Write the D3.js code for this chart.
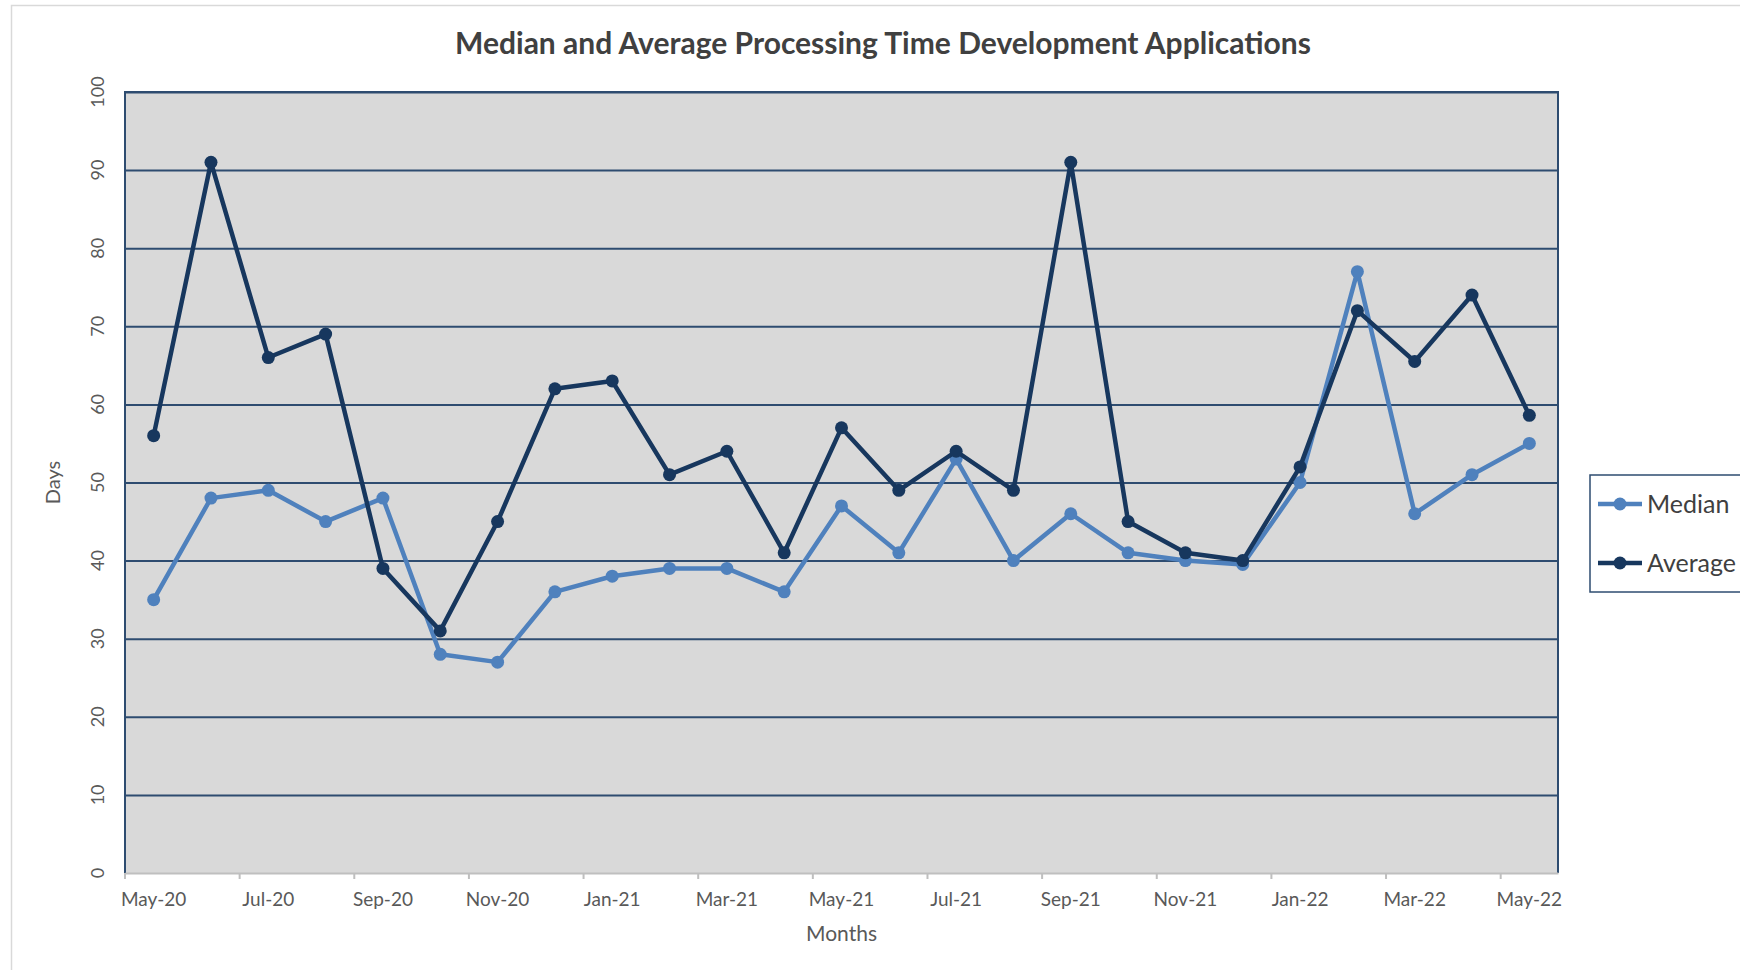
<!DOCTYPE html>
<html>
<head>
<meta charset="utf-8">
<script src="https://cdn.jsdelivr.net/npm/d3@7"></script>
<style>
  body { margin: 0; background: #fff; }
  text { font-family: Lato, "Open Sans", sans-serif; }
</style>
</head>
<body>
<div id="plot"></div>
<script>
// chart data
var months = ["May-20", "Jun-20", "Jul-20", "Aug-20", "Sep-20", "Oct-20", "Nov-20", "Dec-20",
  "Jan-21", "Feb-21", "Mar-21", "Apr-21", "May-21", "Jun-21", "Jul-21", "Aug-21", "Sep-21",
  "Oct-21", "Nov-21", "Dec-21", "Jan-22", "Feb-22", "Mar-22", "Apr-22", "May-22"];
var labelMonths = ["May-20", "Jul-20", "Sep-20", "Nov-20", "Jan-21", "Mar-21", "May-21",
  "Jul-21", "Sep-21", "Nov-21", "Jan-22", "Mar-22", "May-22"];
var median = [35, 48, 49, 45, 48, 28, 27, 36, 38, 39, 39, 36, 47, 41, 53, 40, 46, 41, 40, 39.5, 50, 77, 46, 51, 55];
var average = [56, 91, 66, 69, 39, 31, 45, 62, 63, 51, 54, 41, 57, 49, 54, 49, 91, 45, 41, 40, 52, 72, 65.5, 74, 58.6];
var yTicks = [0, 10, 20, 30, 40, 50, 60, 70, 80, 90, 100];

var svgWidth = 1740;
var svgHeight = 970;
var margin = { top: 92, right: 182, bottom: 97, left: 125 };
var width = svgWidth - margin.left - margin.right;
var height = svgHeight - margin.top - margin.bottom;

var series = [
  { name: "Median", values: median, color: "#4f81bd" },
  { name: "Average", values: average, color: "#17375e" }
];

var svg = d3.select("#plot")
  .append("svg")
  .attr("width", svgWidth)
  .attr("height", svgHeight);

// outer chart frame
svg.append("rect")
  .attr("x", 11.5).attr("y", 5.5)
  .attr("width", 1800).attr("height", 1000)
  .attr("fill", "#fff")
  .attr("stroke", "#d9d9d9")
  .attr("stroke-width", 1.5);

var chartGroup = svg.append("g")
  .attr("transform", `translate(${margin.left}, ${margin.top})`);

var xScale = d3.scaleBand()
  .domain(months)
  .range([0, width])
  .padding(0);
var xMid = d => xScale(d) + xScale.bandwidth() / 2;

var yScale = d3.scaleLinear()
  .domain([0, 100])
  .range([height, 0]);

// plot background
chartGroup.append("rect")
  .attr("width", width)
  .attr("height", height)
  .attr("fill", "#d9d9d9");

// gridlines
chartGroup.append("g")
  .attr("class", "grid")
  .call(d3.axisLeft(yScale).tickValues(yTicks.slice(1)).tickSize(-width).tickFormat(""))
  .call(g => g.select(".domain").remove())
  .call(g => g.selectAll("line").attr("stroke", "#2e4c70").attr("stroke-width", 2));

// plot border: top, left, right
chartGroup.append("path")
  .attr("d", `M0,${height}V0H${width}V${height}`)
  .attr("fill", "none")
  .attr("stroke", "#2e4c70")
  .attr("stroke-width", 2);

// y axis labels (rotated)
chartGroup.append("g")
  .selectAll("text")
  .data(yTicks)
  .enter()
  .append("text")
  .attr("transform", d => `translate(-27, ${yScale(d)}) rotate(-90)`)
  .attr("text-anchor", "middle")
  .attr("dy", "0.35em")
  .attr("font-size", "18px")
  .attr("fill", "#595959")
  .text(d => d);

// x axis
var xAxis = chartGroup.append("g")
  .attr("transform", `translate(0, ${height})`)
  .call(d3.axisBottom(xScale).tickValues(labelMonths).tickSize(0).tickPadding(20));
xAxis.select(".domain").attr("stroke", "#bfbfbf").attr("stroke-width", 2);
xAxis.selectAll("text")
  .attr("font-size", "19px")
  .attr("fill", "#595959")
  .style("font-family", "Lato, 'Open Sans', sans-serif");

xAxis.selectAll(".mark")
  .data(labelMonths)
  .enter()
  .append("line")
  .attr("class", "mark")
  .attr("x1", d => xScale(d)).attr("x2", d => xScale(d))
  .attr("y1", 0).attr("y2", 6)
  .attr("stroke", "#bfbfbf")
  .attr("stroke-width", 2);

// lines and markers
var line = d3.line()
  .x((d, i) => xMid(months[i]))
  .y(d => yScale(d));

series.forEach(function(s) {
  chartGroup.append("path")
    .datum(s.values)
    .attr("d", line)
    .attr("fill", "none")
    .attr("stroke", s.color)
    .attr("stroke-width", 4.5)
    .attr("stroke-linejoin", "round");

  chartGroup.append("g")
    .selectAll("circle")
    .data(s.values)
    .enter()
    .append("circle")
    .attr("cx", (d, i) => xMid(months[i]))
    .attr("cy", d => yScale(d))
    .attr("r", 6.5)
    .attr("fill", s.color);
});

// title
svg.append("text")
  .attr("x", 883)
  .attr("y", 54)
  .attr("text-anchor", "middle")
  .attr("font-size", "30px")
  .attr("font-weight", "bold")
  .attr("fill", "#404040")
  .text("Median and Average Processing Time Development Applications");

// axis titles
svg.append("text")
  .attr("transform", `translate(60, ${margin.top + height / 2}) rotate(-90)`)
  .attr("text-anchor", "middle")
  .attr("font-size", "20px")
  .attr("fill", "#595959")
  .text("Days");

svg.append("text")
  .attr("x", margin.left + width / 2)
  .attr("y", 941)
  .attr("text-anchor", "middle")
  .attr("font-size", "21px")
  .attr("fill", "#595959")
  .text("Months");

// legend
var legend = svg.append("g").attr("transform", "translate(1590, 475)");
legend.append("rect")
  .attr("width", 200)
  .attr("height", 117)
  .attr("fill", "#fff")
  .attr("stroke", "#2e4c70")
  .attr("stroke-width", 1.5);

series.forEach(function(s, i) {
  var row = legend.append("g").attr("transform", `translate(8, ${29 + i * 59})`);
  row.append("line")
    .attr("x1", 0).attr("x2", 44)
    .attr("stroke", s.color)
    .attr("stroke-width", 4.5);
  row.append("circle")
    .attr("cx", 22)
    .attr("r", 6.5)
    .attr("fill", s.color);
  row.append("text")
    .attr("x", 49)
    .attr("dy", "0.35em")
    .attr("font-size", "25px")
    .attr("fill", "#404040")
    .text(s.name);
});
</script>
</body>
</html>
